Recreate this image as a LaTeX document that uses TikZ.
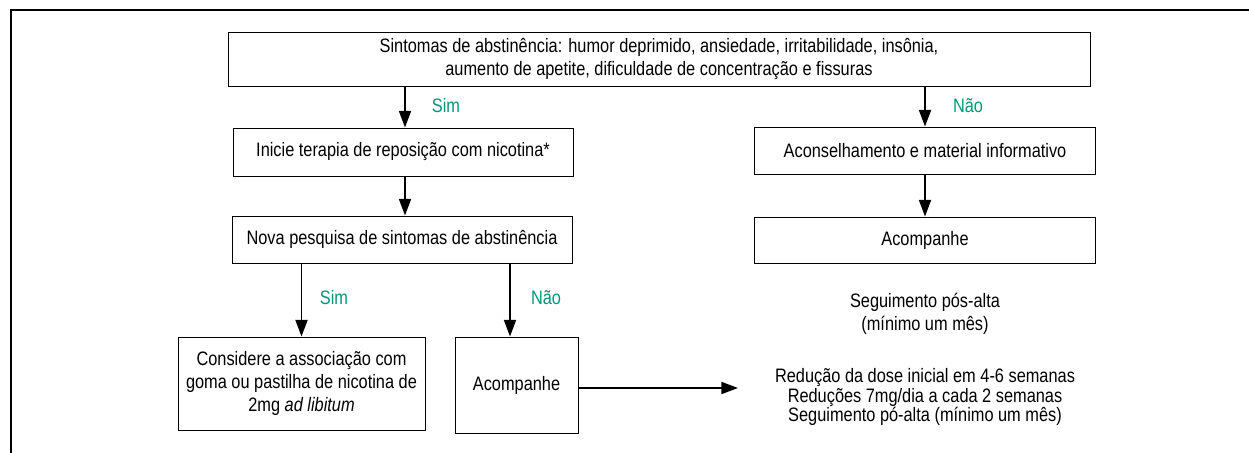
\documentclass[tikz,border=0pt]{standalone}
\usepackage{fontspec}
\setmainfont{Liberation Sans}[FakeStretch=0.84]
\usepackage{xcolor}
\usepackage{tikz}
\usetikzlibrary{arrows.meta, calc}
\definecolor{simverde}{RGB}{0,150,122}

\begin{document}
\begin{tikzpicture}[x=0.75pt, y=-0.75pt,
        caixa/.style={draw, line width=0.7pt, align=center, inner sep=0pt,
            font=\fontsize{14.6}{17.3}\selectfont},
        texto/.style={align=center, inner sep=0pt, font=\fontsize{14.6}{17.3}\selectfont},
        resposta/.style={text=simverde, inner sep=0pt, font=\fontsize{14.6}{17.3}\selectfont},
        seta/.style={-{Triangle[length=12.5pt, width=9pt]}, line width=1.4pt}]
        \useasboundingbox (0,0) rectangle (1249,453);
        \draw[line width=0.8pt] (1249,10) -- (11,10) -- (11,453);

        \node[caixa, minimum width=862*0.75pt, minimum height=54*0.75pt] (sintomas) at (659,59)
            {Sintomas de abstinência: humor deprimido, ansiedade, irritabilidade, insônia,\\
             aumento de apetite, dificuldade de concentração e fissuras};

        \node[caixa, minimum width=340*0.75pt, minimum height=48*0.75pt] (inicie) at (403,152)
            {Inicie terapia de reposição com nicotina*};
        \node[caixa, minimum width=340*0.75pt, minimum height=47*0.75pt] (nova) at (402,239.5)
            {Nova pesquisa de sintomas de abstinência};

        \node[caixa, minimum width=341*0.75pt, minimum height=47*0.75pt] (aconselha) at (925,150.5)
            {Aconselhamento e material informativo};
        \node[caixa, minimum width=341*0.75pt, minimum height=46*0.75pt] (acompdir) at (925,240)
            {Acompanhe};

        \node[caixa, minimum width=247*0.75pt, minimum height=93*0.75pt] (considere) at (301.5,383.5)
            {Considere a associação com\\ goma ou pastilha de nicotina de\\ 2mg \textit{ad libitum}};
        \node[caixa, minimum width=123*0.75pt, minimum height=96*0.75pt] (acompesq) at (516.5,385)
            {Acompanhe};

        \node[texto] (seguimento) at (925,314) {Seguimento pós-alta\\ (mínimo um mês)};
        \node[texto, font=\fontsize{14.6}{14.6}\selectfont] (reducao) at (925,397)
            {Redução da dose inicial em 4-6 semanas\\ Reduções 7mg/dia a cada 2 semanas\\ Seguimento pó-alta (mínimo um mês)};

        \node[resposta] (sim1) at (446,106) {Sim};
        \node[resposta] (nao1) at (968,106) {Não};
        \node[resposta] (sim2) at (334,298) {Sim};
        \node[resposta] (nao2) at (546,298) {Não};

        \coordinate (desce) at (405,0);
        \coordinate (entra) at ($(acompesq.north)+(-6.5,0)$);
        \coordinate (fim) at (738,388);

        \draw[seta] (sintomas.south -| desce) -- (inicie.north -| desce);
        \draw[seta] (sintomas.south -| aconselha.north) -- (aconselha.north);
        \draw[seta] (inicie.south -| desce) -- (nova.north -| desce);
        \draw[seta] (aconselha) -- (acompdir);
        \draw[seta] (nova.south -| considere.north) -- (considere.north);
        \draw[seta] (nova.south -| entra) -- (entra);
        \draw[seta] (acompesq.east |- fim) -- (fim);

    \end{tikzpicture}
\end{document}
